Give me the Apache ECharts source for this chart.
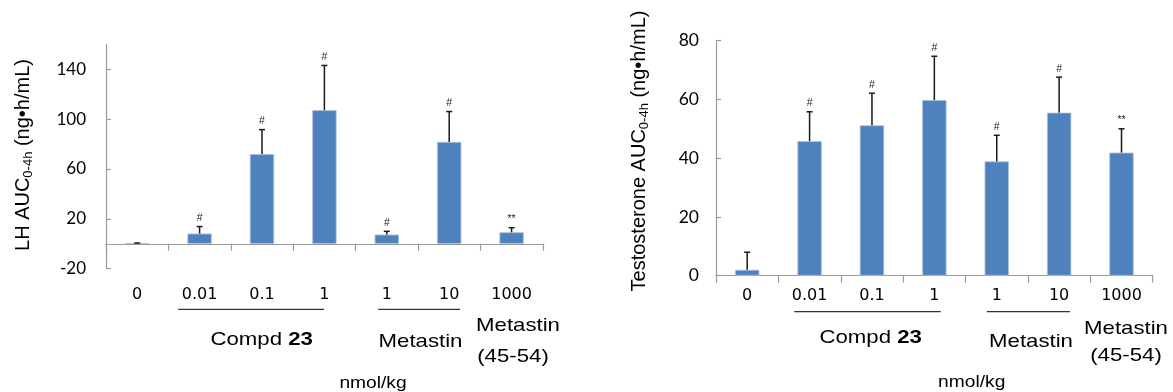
<!DOCTYPE html>
<html><head><meta charset="utf-8">
<script src="https://cdn.jsdelivr.net/npm/echarts@6/dist/echarts.min.js"></script>
<style>html,body{margin:0;padding:0;background:#fff}#c{width:1173px;height:392px}</style>
</head><body><div id="c"></div>
<script>
// ---- data ----
const categories = ['0', '0.01', '0.1', '1', '1', '10', '1000'];
const lhMean = [0.3, 8.2, 72.0, 107.2, 7.4, 81.7, 9.2];
const lhSD   = [0.3, 5.6, 19.6, 35.9, 2.6, 24.4, 3.7];
const lhMarks = ['', '#', '#', '#', '#', '#', '**'];
const tMean = [2.0, 45.8, 51.2, 59.8, 38.9, 55.5, 41.9];
const tSD   = [6.0, 10.0, 10.9, 14.9, 8.9, 12.1, 8.1];
const tMarks = ['', '#', '#', '#', '#', '#', '**'];
const lhTicks = [-20, 20, 60, 100, 140];
const tTicks = [0, 20, 40, 60, 80];

const AX = '#9a9a9a';
const BLUE = '#4f81bd';
const chart = echarts.init(document.getElementById('c'), null, {renderer: 'canvas'});

function errorSeries(xi, yi, mean, sd, marks) {
  return {
    type: 'custom', xAxisIndex: xi, yAxisIndex: yi, z: 5,
    data: mean.map((m, i) => [i, m, m + sd[i]]),
    renderItem(params, api) {
      const x = api.value(0);
      const lo = api.coord([x, api.value(1)]);
      const hi = api.coord([x, api.value(2)]);
      const mark = marks[params.dataIndex];
      const children = [
        {type: 'line', shape: {x1: lo[0], y1: lo[1], x2: hi[0], y2: hi[1]}, style: {stroke: '#1a1a1a', lineWidth: 1.5}},
        {type: 'line', shape: {x1: hi[0] - 3, y1: hi[1], x2: hi[0] + 3, y2: hi[1]}, style: {stroke: '#1a1a1a', lineWidth: 1.5}}
      ];
      if (mark) children.push({type: 'text', x: hi[0], y: hi[1] - 3,
        style: {text: mark, align: 'center', verticalAlign: 'bottom', fontSize: 10.5, fill: '#222', fontFamily: 'Liberation Sans'}});
      return {type: 'group', children};
    }
  };
}

const catLabel = {fontFamily: 'DejaVu Sans', fontSize: 16, color: '#000'};

function txt(x, y, text, size, extra) {
  return Object.assign({type: 'text', x: x, y: y, scaleX: 1.2,
    style: {text: text, align: 'center', verticalAlign: 'middle', fontFamily: 'Liberation Sans', fontSize: size, fill: '#000',
      rich: {b: {fontWeight: 'bold', fontFamily: 'Liberation Sans', fontSize: size, fill: '#000'}}}}, extra || {});
}
function hline(x1, x2, y) {
  return {type: 'line', shape: {x1, y1: y, x2, y2: y}, style: {stroke: '#333', lineWidth: 1.2}};
}
function ytitle(x, y, main) {
  return {type: 'text', x: x, y: y, rotation: Math.PI / 2,
    style: {text: '{a|' + main + '}{s|0-4h}{a| (ng•h/mL)}', align: 'center', verticalAlign: 'middle',
      rich: {
        a: {fontFamily: 'Liberation Sans', fontSize: 20, lineHeight: 24, fill: '#000'},
        s: {fontFamily: 'Liberation Sans', fontSize: 13, lineHeight: 13, verticalAlign: 'bottom', fill: '#000'}
      }}};
}

chart.setOption({
  animation: false,
  grid: [
    {left: 106, right: 630.2, top: 44.4, bottom: 123.3, containLabel: false},
    {left: 716, right: 20.3, top: 40.7, bottom: 116.3, containLabel: false}
  ],
  xAxis: [
    {type: 'category', gridIndex: 0, data: categories,
      axisLine: {onZero: true, lineStyle: {color: AX, width: 1.2}},
      axisTick: {show: true, length: 7, lineStyle: {color: AX, width: 1.2}},
      axisLabel: {show: false}},
    {type: 'category', gridIndex: 0, data: categories, position: 'bottom',
      axisLine: {show: false, onZero: false}, axisTick: {show: false},
      axisLabel: Object.assign({margin: 18}, catLabel)},
    {type: 'category', gridIndex: 1, data: categories,
      axisLine: {onZero: false, lineStyle: {color: AX, width: 1.2}},
      axisTick: {show: true, length: 7, lineStyle: {color: AX, width: 1.2}},
      axisLabel: Object.assign({margin: 12}, catLabel)}
  ],
  yAxis: [
    {type: 'value', gridIndex: 0, min: -20, max: 160, interval: 20,
      axisLine: {show: true, lineStyle: {color: AX, width: 1.2}},
      axisTick: {show: true, inside: true, length: 5, customValues: lhTicks, lineStyle: {color: AX, width: 1.2}},
      axisLabel: {customValues: lhTicks, margin: 20, fontFamily: 'Lato', fontSize: 17, color: '#000'},
      splitLine: {show: false}},
    {type: 'value', gridIndex: 1, min: 0, max: 80, interval: 20,
      axisLine: {show: true, lineStyle: {color: AX, width: 1.2}},
      axisTick: {show: true, inside: true, length: 5, customValues: tTicks, lineStyle: {color: AX, width: 1.2}},
      axisLabel: {customValues: tTicks, margin: 17, fontFamily: 'Lato', fontSize: 17.5, color: '#000'},
      splitLine: {show: false}}
  ],
  series: [
    {type: 'bar', xAxisIndex: 0, yAxisIndex: 0, data: lhMean, barWidth: '39%',
      itemStyle: {color: BLUE, borderColor: '#a9c0dc', borderWidth: 0.8}},
    errorSeries(0, 0, lhMean, lhSD, lhMarks),
    {type: 'bar', xAxisIndex: 2, yAxisIndex: 1, data: tMean, barWidth: '39%',
      itemStyle: {color: BLUE, borderColor: '#a9c0dc', borderWidth: 0.8}},
    errorSeries(2, 1, tMean, tSD, tMarks)
  ],
  graphic: [
    ytitle(23, 155, 'LH AUC'),
    ytitle(639, 151, 'Testosterone AUC'),
    hline(178.3, 324, 309.3),
    hline(378.3, 460, 309.3),
    txt(261.7, 340, 'Compd {b|23}', 18.5),
    txt(420.5, 341.7, 'Metastin', 18.5),
    txt(518, 326, 'Metastin', 18.5),
    txt(513, 357, '(45-54)', 18.5),
    txt(373, 384, 'nmol/kg', 16),
    hline(794.3, 940.7, 311.7),
    hline(986.7, 1070, 311.7),
    txt(870.7, 338.3, 'Compd {b|23}', 18.5),
    txt(1031, 341.7, 'Metastin', 18.5),
    txt(1126, 329, 'Metastin', 18.5),
    txt(1126, 356, '(45-54)', 18.5),
    txt(971.7, 383, 'nmol/kg', 16)
  ]
});
</script>
</body></html>
